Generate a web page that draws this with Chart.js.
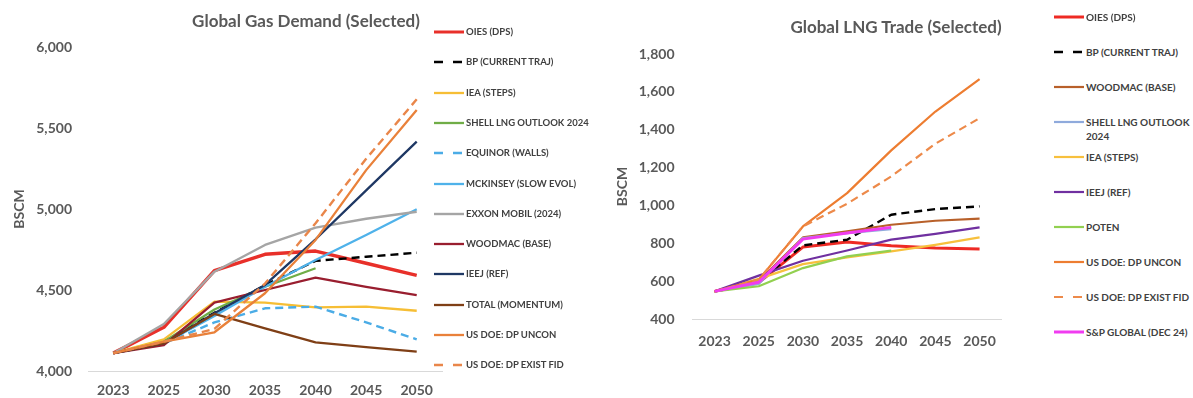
<!DOCTYPE html>
<html>
<head>
<meta charset="utf-8">
<script src="https://cdn.jsdelivr.net/npm/chart.js@4/dist/chart.umd.min.js"></script>
<style>
  html, body { margin: 0; padding: 0; background: #fff; }
  #wrap { position: relative; width: 1193px; height: 398px; overflow: hidden; font-family: Lato, "Open Sans", sans-serif; }
  .ttl { position: absolute; width: 400px; text-align: center; font-weight: 700; font-size: 17px; line-height: 20px; color: #595959; white-space: nowrap; }
  .cv { position: absolute; top: 0; }
  .lg { position: absolute; display: flex; align-items: flex-start; font-weight: 700; color: #404040; white-space: pre; }
  .lg svg { flex: none; }
</style>
</head>
<body>
<div id="wrap">
  <canvas id="c1" class="cv" width="445" height="398" style="left:0px"></canvas>
  <canvas id="c2" class="cv" width="410" height="398" style="left:600px"></canvas>
  <div class="ttl" style="left:106px;top:11px">Global Gas Demand (Selected)</div>
  <div class="ttl" style="left:696px;top:17px">Global LNG Trade (Selected)</div>
</div>
<script>
// ---------- shared categories ----------
const years = ['2023', '2025', '2030', '2035', '2040', '2045', '2050'];

// ---------- Left chart: Global Gas Demand (BSCM) ----------
const gasOies     = [4110, 4270, 4620, 4720, 4740, 4665, 4590];
const gasBp       = [4110, 4180, 4360, 4530, 4680, 4705, 4730];
const gasIea      = [4110, 4195, 4428, 4422, 4393, 4397, 4372];
const gasShell    = [4110, 4180, 4380, 4520, 4634, null, null];
const gasEquinor  = [4110, 4170, 4300, 4387, 4397, 4300, 4195];
const gasMckinsey = [4110, 4170, 4340, 4520, 4685, 4840, 4998];
const gasExxon    = [4110, 4290, 4613, 4778, 4885, 4940, 4983];
const gasWoodmac  = [4110, 4160, 4422, 4500, 4576, 4520, 4469];
const gasIeej     = [4110, 4170, 4356, 4531, 4813, 5115, 5416];
const gasTotal    = [4110, 4170, 4352, 4263, 4177, 4148, 4119];
const gasDoeUncon = [4110, 4181, 4239, 4480, 4809, 5240, 5611];
const gasDoeFid   = [4110, 4181, 4260, 4540, 4912, 5310, 5677];
const gasTicks    = [4000, 4500, 5000, 5500, 6000];

// ---------- Right chart: Global LNG Trade (BSCM) ----------
const lngOies     = [546, 592, 780, 807, 787, 775, 770];
const lngBp       = [546, 595, 789, 819, 951, 981, 995];
const lngWoodmac  = [546, 600, 831, 863, 898, 919, 930];
const lngShell    = [546, 585, 828, 854, 875, null, null];
const lngIea      = [546, 612, 690, 726, 757, 792, 831];
const lngIeej     = [546, 629, 708, 762, 819, 850, 884];
const lngPoten    = [546, 573, 669, 731, 761, null, null];
const lngDoeUncon = [546, 608, 889, 1065, 1291, 1496, 1667];
const lngDoeFid   = [546, 608, 889, 1009, 1153, 1326, 1461];
const lngSp       = [546, 594, 822, 854, 884, null, null];
const lngTicks    = [400, 600, 800, 1000, 1200, 1400, 1600, 1800];

// ---------- series definitions (label, data, color, width, dash) ----------
const gasSeries = [
  ['OIES (DPS)', gasOies, '#e8302a', 3.5, []],
  ['BP (CURRENT TRAJ)', gasBp, '#000000', 2.4, [8, 5]],
  ['IEA (STEPS)', gasIea, '#f6be35', 2.3, []],
  ['SHELL LNG OUTLOOK 2024', gasShell, '#70ad47', 2.3, []],
  ['EQUINOR (WALLS)', gasEquinor, '#4bace6', 2.4, [8, 5]],
  ['MCKINSEY (SLOW EVOL)', gasMckinsey, '#4fb2ea', 2.3, []],
  ['EXXON MOBIL (2024)', gasExxon, '#a5a5a5', 2.4, []],
  ['WOODMAC (BASE)', gasWoodmac, '#991e2f', 2.3, []],
  ['IEEJ (REF)', gasIeej, '#1f3864', 2.3, []],
  ['TOTAL (MOMENTUM)', gasTotal, '#7f3f16', 2.3, []],
  ['US DOE: DP UNCON', gasDoeUncon, '#e9813a', 2.3, []],
  ['US DOE: DP EXIST FID', gasDoeFid, '#e9864a', 2.4, [8, 5]]
];
const lngSeries = [
  ['OIES (DPS)', lngOies, '#ee2a24', 3, []],
  ['BP (CURRENT TRAJ)', lngBp, '#000000', 2.4, [8, 5]],
  ['WOODMAC (BASE)', lngWoodmac, '#b8602a', 2.2, []],
  ['SHELL LNG OUTLOOK\n2024', lngShell, '#8faadc', 2.2, []],
  ['IEA (STEPS)', lngIea, '#f7c03d', 2.2, []],
  ['IEEJ (REF)', lngIeej, '#7030a0', 2.2, []],
  ['POTEN', lngPoten, '#92d050', 2.2, []],
  ['US DOE: DP UNCON', lngDoeUncon, '#ed7d31', 2.2, []],
  ['US DOE: DP EXIST FID', lngDoeFid, '#ed8a4a', 2.2, [8, 5]],
  ['S&P GLOBAL (DEC 24)', lngSp, '#f03cf0', 3, []]
];

const FONT = 'Lato, "Open Sans", sans-serif';
const GREY = '#595959';

function makeChart(id, series, ticks, cfg) {
  const datasets = series.map((s, i) => ({
    label: s[0].replace('\n', ' '),
    data: s[1],
    borderColor: s[2],
    backgroundColor: s[2],
    borderWidth: s[3],
    borderDash: s[4],
    order: series.length - i,   // later series drawn on top (as in the source)
    pointRadius: 0,
    pointHoverRadius: 0,
    tension: 0,
    fill: false,
    spanGaps: false,
    borderCapStyle: 'butt',
    borderJoinStyle: 'round'
  }));
  return new Chart(document.getElementById(id), {
    type: 'line',
    data: { labels: years, datasets },
    options: {
      responsive: false,
      animation: false,
      devicePixelRatio: 1,
      layout: { padding: { top: cfg.top, right: cfg.right, left: 0, bottom: 0 } },
      plugins: { legend: { display: false }, title: { display: false }, tooltip: { enabled: false } },
      scales: {
        x: {
          type: 'category',
          offset: true,
          grid: { display: false, drawTicks: false, offset: true },
          border: { display: true, color: '#d9d9d9', width: 1 },
          ticks: { color: GREY, font: { family: FONT, size: 14, weight: 'bold' }, padding: cfg.xPad, maxRotation: 0, autoSkip: false },
          afterFit: s => { s.height = cfg.xHeight; }
        },
        y: {
          min: ticks[0],
          max: ticks[ticks.length - 1],
          afterBuildTicks: s => { s.ticks = ticks.map(v => ({ value: v })); },
          grid: { display: false, drawTicks: false },
          border: { display: false },
          ticks: {
            color: GREY,
            font: { family: FONT, size: 14, weight: 'bold' },
            padding: cfg.yPad,
            callback: v => Number(v).toLocaleString('en-US')
          },
          title: { display: true, text: 'BSCM', color: GREY, font: { family: FONT, size: 14, weight: 'bold' }, padding: { top: cfg.titlePad, bottom: 0 } },
          afterFit: s => { s.width = cfg.yWidth; }
        }
      }
    }
  });
}

makeChart('c1', gasSeries, gasTicks, { top: 47, right: 3, xPad: 11, xHeight: 27, yPad: 16, yWidth: 88, titlePad: 11 });
makeChart('c2', lngSeries, lngTicks, { top: 54, right: 2.5, xPad: 14, xHeight: 79, yPad: 18, yWidth: 92.5, titlePad: 14 });

// ---------- HTML legends ----------
function buildLegend(series, x, y0, step, fontSize, lineH) {
  const wrap = document.getElementById('wrap');
  series.forEach((s, i) => {
    const d = document.createElement('div');
    d.className = 'lg';
    d.style.left = x + 'px';
    d.style.top = (y0 + i * step - lineH / 2) + 'px';
    d.style.fontSize = fontSize + 'px';
    d.style.lineHeight = lineH + 'px';
    const dash = s[4].length ? 'stroke-dasharray="9 10"' : '';
    const w = Math.min(s[3], 3);
    d.innerHTML = '<svg width="32" height="' + lineH + '"><line x1="0" y1="' + (lineH / 2) + '" x2="30" y2="' + (lineH / 2) +
      '" stroke="' + s[2] + '" stroke-width="' + w + '" ' + dash + '/></svg>';
    const t = document.createElement('span');
    t.textContent = s[0];
    d.appendChild(t);
    wrap.appendChild(d);
  });
}
buildLegend(gasSeries, 434, 32, 30.3, 9.5, 12);
buildLegend(lngSeries, 1054, 17, 35, 10, 14);
</script>
</body>
</html>
